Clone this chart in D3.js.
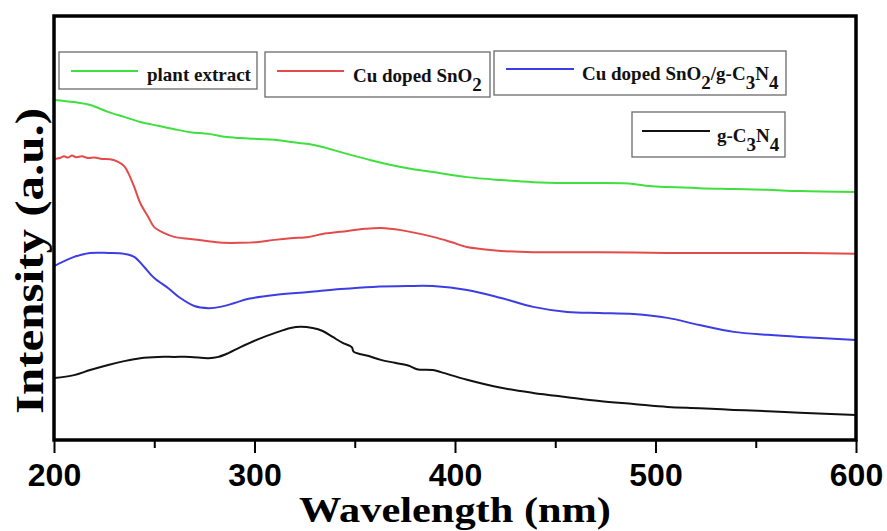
<!DOCTYPE html>
<html>
<head>
<meta charset="utf-8">
<script src="https://cdn.jsdelivr.net/npm/d3@7"></script>
<style>
html,body{margin:0;padding:0;background:#fff;}
svg{display:block;}
</style>
</head>
<body>
<svg id="chart" width="887" height="531"></svg>
<script>
// ---- data ----
const xTicks = [200, 300, 400, 500, 600];
const xMinorTicks = [250, 350, 450, 550];

const plantWl = [200,210,218,227,235,243,252,260,268,277,285,293,302,310,318,327,334,343,358,373,389,406,423,439,456,472,489,497,522,539,556,572,600];
const plantI  = [80.2,79.7,79.0,77.4,76.2,75.0,74.1,73.3,72.6,72.2,71.5,71.2,71.0,70.8,70.3,69.8,69.1,67.9,66.0,64.4,63.2,62.0,61.3,60.8,60.6,60.6,60.4,59.9,59.4,59.2,59.0,58.7,58.5];

const cuWl = [200,203,205,207,209,211,214,217,220,224,228,232,235,237,240,243,247,250,255,260,268,277,285,293,302,310,318,327,334,343,355,363,373,389,398,406,414,423,439,472,506,539,572,600];
const cuI  = [66.3,66.5,66.9,66.6,67.1,66.7,66.9,66.5,66.6,66.3,66.2,65.6,64.6,63.0,59.7,55.9,52.6,50.2,48.8,47.9,47.4,46.9,46.5,46.5,46.7,47.2,47.6,47.9,48.6,49.1,49.8,50.0,49.5,47.9,46.7,45.5,45.0,44.6,44.3,44.3,44.1,44.1,44.1,43.9];

const compWl = [200,210,218,227,235,240,245,250,257,263,270,277,283,290,297,310,327,343,359,376,389,406,423,439,456,472,489,506,522,539,556,572,600];
const compI  = [41.0,43.2,44.1,44.1,43.9,43.2,40.8,38.2,35.8,33.5,31.6,31.1,31.4,32.3,33.3,34.2,34.9,35.6,36.1,36.3,36.3,35.4,33.5,31.4,30.2,29.95,29.7,28.8,27.1,25.5,24.8,24.3,23.6];

const gcnWl = [200,210,218,227,235,243,252,260,268,277,282,287,293,302,310,318,323,329,334,339,344,348.5,349.5,357,363,370,377,381,389,393,406,423,439,456,472,489,506,522,539,556,572,600];
const gcnI  = [14.6,15.3,16.5,17.7,18.6,19.3,19.6,19.6,19.6,19.3,19.6,20.5,21.9,23.8,25.2,26.4,26.7,26.4,25.7,24.3,22.9,21.9,20.8,19.8,18.9,18.2,17.5,16.7,16.5,16.0,14.2,12.3,11.1,10.1,9.2,8.5,7.8,7.5,7.1,6.8,6.4,5.9];

const seriesNames = ["plant extract", "Cu doped SnO2", "Cu doped SnO2/g-C3N4", "g-C3N4"];
const seriesColors = ["#3fdf3f", "#e44a4a", "#3d3de4", "#111111"];

// ---- layout ----
const svg = d3.select("#chart");
const L = 54, R = 856, T = 16, B = 440;

const x = d3.scaleLinear().domain([200, 600]).range([L, R]);
const y = d3.scaleLinear().domain([0, 100]).range([B, T]);

const line = d3.line()
  .x(d => x(d[0]))
  .y(d => y(d[1]))
  .curve(d3.curveCatmullRom.alpha(0.5));

const series = [
  [plantWl, plantI],
  [cuWl, cuI],
  [compWl, compI],
  [gcnWl, gcnI]
];

series.forEach((s, i) => {
  const pts = s[0].map((w, k) => [w, s[1][k]]);
  svg.append("path")
    .attr("d", line(pts))
    .attr("fill", "none")
    .attr("stroke", seriesColors[i])
    .attr("stroke-width", 2)
    .attr("stroke-linejoin", "round");
});

// frame
svg.append("rect")
  .attr("x", L).attr("y", T)
  .attr("width", R - L).attr("height", B - T)
  .attr("fill", "none").attr("stroke", "#000").attr("stroke-width", 3.5);

// x axis
const xAxis = d3.axisBottom(x).tickValues(xTicks).tickSize(13).tickPadding(10).tickFormat(d3.format("d"));
const gx = svg.append("g").attr("transform", `translate(0,${B})`).call(xAxis);
gx.select(".domain").remove();
gx.selectAll(".tick line").attr("stroke", "#000").attr("stroke-width", 2);
gx.selectAll(".tick text")
  .attr("font-family", "Liberation Sans, Arial, sans-serif")
  .attr("font-weight", "bold")
  .attr("font-size", 32)
  .attr("fill", "#000");

const xMinor = d3.axisBottom(x).tickValues(xMinorTicks).tickSize(8).tickFormat("");
const gxm = svg.append("g").attr("transform", `translate(0,${B})`).call(xMinor);
gxm.select(".domain").remove();
gxm.selectAll(".tick line").attr("stroke", "#000").attr("stroke-width", 2);

// axis titles
svg.append("text")
  .attr("x", 455).attr("y", 522)
  .attr("text-anchor", "middle")
  .attr("font-family", "Liberation Serif, Times New Roman, serif")
  .attr("font-weight", "bold")
  .attr("font-size", 35)
  .attr("textLength", 312)
  .attr("lengthAdjust", "spacingAndGlyphs")
  .text("Wavelength (nm)");

svg.append("text")
  .attr("transform", "translate(43,261) rotate(-90)")
  .attr("text-anchor", "middle")
  .attr("font-family", "Liberation Serif, Times New Roman, serif")
  .attr("font-weight", "bold")
  .attr("font-size", 40)
  .attr("textLength", 306)
  .attr("lengthAdjust", "spacingAndGlyphs")
  .text("Intensity (a.u.)");

// legends
const legends = [
  {box:[59,52,257,89],  line:[71,138,71],  tx:147, ty:81, parts:[["plant extract",0]]},
  {box:[265,52,490,97], line:[277,344,71], tx:353, ty:82, parts:[["Cu doped SnO",0],["2",1]]},
  {box:[494,51,786,95], line:[506,574,69], tx:582, ty:80, parts:[["Cu doped SnO",0],["2",1],["/g-C",0],["3",1],["N",0],["4",1]]},
  {box:[632,112,785,157], line:[642,710,131], tx:717, ty:142, parts:[["g-C",0],["3",1],["N",0],["4",1]]}
];

legends.forEach((lg, i) => {
  svg.append("rect")
    .attr("x", lg.box[0]).attr("y", lg.box[1])
    .attr("width", lg.box[2] - lg.box[0]).attr("height", lg.box[3] - lg.box[1])
    .attr("fill", "#fff").attr("stroke", "#6a6a6a").attr("stroke-width", 1.3);
  svg.append("line")
    .attr("x1", lg.line[0]).attr("x2", lg.line[1])
    .attr("y1", lg.line[2]).attr("y2", lg.line[2])
    .attr("stroke", seriesColors[i]).attr("stroke-width", 2);
  const t = svg.append("text")
    .attr("x", lg.tx).attr("y", lg.ty)
    .attr("font-family", "Liberation Serif, Times New Roman, serif")
    .attr("font-weight", "bold")
    .attr("font-size", 19)
    .attr("fill", "#111");
  let prevSub = 0;
  lg.parts.forEach(p => {
    const sub = p[1];
    const dy = (sub - prevSub) * 9;
    t.append("tspan").attr("dy", dy).text(p[0]);
    prevSub = sub;
  });
});
</script>
</body>
</html>
